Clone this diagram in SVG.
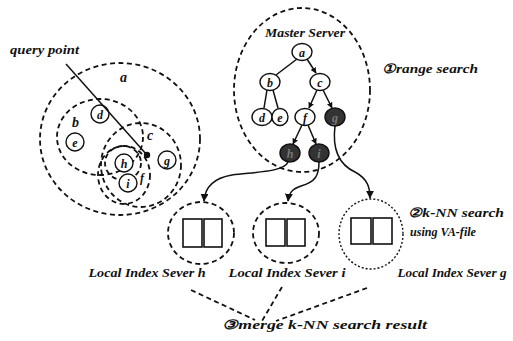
<svg xmlns="http://www.w3.org/2000/svg" width="513" height="341" viewBox="0 0 513 341">
<defs>
<style>
.t{font-family:"Liberation Serif","DejaVu Serif",serif;font-style:italic;font-weight:bold;fill:#111}
.dash{fill:none;stroke:#111;stroke-width:1.8;stroke-dasharray:5 3.5}
.dot{fill:none;stroke:#111;stroke-width:1.4;stroke-dasharray:2 2}
.nd{fill:#fff;stroke:#111;stroke-width:1.4}
.dk{fill:#333;stroke:#111;stroke-width:1.4}
.ln{fill:none;stroke:#111;stroke-width:1.5}
.rc{fill:#fff;stroke:#111;stroke-width:1.6}
</style>
<marker id="ah" viewBox="0 0 10 10" refX="9" refY="5" markerWidth="6" markerHeight="6" orient="auto" markerUnits="userSpaceOnUse">
<path d="M0,0 L10,5 L0,10 z" fill="#111"/>
</marker>
<marker id="ah2" viewBox="0 0 10 10" refX="9" refY="5" markerWidth="8" markerHeight="8" orient="auto" markerUnits="userSpaceOnUse">
<path d="M0,0 L10,5 L0,10 z" fill="#111"/>
</marker>
</defs>

<g id="space">
<ellipse class="dash" cx="120" cy="139" rx="80" ry="76"/>
<ellipse class="dash" cx="100" cy="137" rx="43" ry="38"/>
<ellipse class="dash" cx="141" cy="165" rx="40" ry="42"/>
<ellipse class="dash" cx="124" cy="175" rx="26" ry="29"/>
<ellipse class="dash" cx="123" cy="163" rx="18" ry="17"/>
<text class="t" x="120" y="82" font-size="14">a</text>
<text class="t" x="72" y="127" font-size="14">b</text>
<text class="t" x="147" y="140" font-size="14">c</text>
<text class="t" x="140" y="182" font-size="12">f</text>
<circle class="nd" cx="100" cy="114" r="9"/><text class="t" x="100" y="118.5" font-size="12" text-anchor="middle">d</text>
<circle class="nd" cx="75" cy="142" r="9"/><text class="t" x="75" y="146.5" font-size="12" text-anchor="middle">e</text>
<circle class="nd" cx="124" cy="163" r="9"/><text class="t" x="124" y="167.5" font-size="12" text-anchor="middle">h</text>
<circle class="nd" cx="128" cy="183" r="9"/><text class="t" x="128" y="187.5" font-size="12" text-anchor="middle">i</text>
<circle class="nd" cx="167" cy="160" r="9"/><text class="t" x="167" y="164.5" font-size="12" text-anchor="middle">g</text>
<line class="ln" x1="66" y1="64" x2="147" y2="155"/>
<circle cx="147" cy="155" r="3.2" fill="#111"/>
<text class="t" x="10" y="54" font-size="12" textLength="69" lengthAdjust="spacingAndGlyphs">query point</text>
</g>

<g id="master">
<ellipse class="dash" cx="302" cy="90" rx="68" ry="82"/>
<text class="t" x="305" y="37" font-size="12" text-anchor="middle" textLength="80" lengthAdjust="spacingAndGlyphs">Master Server</text>
</g>

<g id="tree-edges">
<line class="ln" x1="297" y1="59" x2="276" y2="75"/>
<line class="ln" x1="307" y1="59" x2="316" y2="73" marker-end="url(#ah)"/>
<line class="ln" x1="267" y1="90" x2="264" y2="108"/>
<line class="ln" x1="273" y1="90" x2="278" y2="108"/>
<line class="ln" x1="317" y1="90" x2="309" y2="108" marker-end="url(#ah)"/>
<line class="ln" x1="323" y1="90" x2="332" y2="108" marker-end="url(#ah)"/>
<line class="ln" x1="302" y1="125" x2="293" y2="144" marker-end="url(#ah)"/>
<line class="ln" x1="308" y1="125" x2="316" y2="144" marker-end="url(#ah)"/>
</g>

<g id="tree-nodes">
<g id="t-a"><ellipse class="nd" cx="302" cy="52" rx="10" ry="8.5"/><text class="t" x="302" y="56.5" font-size="12" text-anchor="middle">a</text></g>
<g id="t-b"><ellipse class="nd" cx="270" cy="82" rx="10" ry="8.5"/><text class="t" x="270" y="86.5" font-size="12" text-anchor="middle">b</text></g>
<g id="t-c"><ellipse class="nd" cx="320" cy="82" rx="10" ry="8.5"/><text class="t" x="320" y="86.5" font-size="12" text-anchor="middle">c</text></g>
<g id="t-d"><ellipse class="nd" cx="262" cy="117" rx="10" ry="8.5"/><text class="t" x="262" y="121.5" font-size="12" text-anchor="middle">d</text></g>
<g id="t-e"><ellipse class="nd" cx="280" cy="117" rx="8" ry="8.5"/><text class="t" x="280" y="121.5" font-size="12" text-anchor="middle">e</text></g>
<g id="t-f"><ellipse class="nd" cx="305" cy="117" rx="10" ry="8.5"/><text class="t" x="305" y="121.5" font-size="12" text-anchor="middle">f</text></g>
<g id="t-g"><ellipse class="dk" cx="335" cy="117" rx="10" ry="9"/><text class="t" x="335" y="121.5" font-size="12" text-anchor="middle" style="fill:#777">g</text></g>
<g id="t-h"><ellipse class="dk" cx="290" cy="153" rx="10" ry="9"/><text class="t" x="290" y="157.5" font-size="12" text-anchor="middle" style="fill:#777">h</text></g>
<g id="t-i"><ellipse class="dk" cx="319" cy="153" rx="10" ry="9"/><text class="t" x="319" y="157.5" font-size="12" text-anchor="middle" style="fill:#777">i</text></g>
</g>

<g id="connectors">
<path class="ln" d="M288,162 C284,172 255,172 232,175 C214,178 205,187 204,201" marker-end="url(#ah2)"/>
<path class="ln" d="M319,162 C319,176 315,182 301,186 C292,189 289,193 288,201" marker-end="url(#ah2)"/>
<path class="ln" d="M335,126 C332,150 340,165 355,172 C368,179 370,188 370,198" marker-end="url(#ah2)"/>
<line class="dash" x1="191" y1="290" x2="255" y2="320"/>
<line class="dash" x1="282" y1="287" x2="262" y2="321"/>
<line class="dash" x1="367" y1="288" x2="276" y2="321"/>
</g>

<g id="server-h">
<ellipse class="dash" cx="201" cy="233" rx="33" ry="31"/>
<rect class="rc" x="183" y="219" width="19" height="28"/>
<rect class="rc" x="204" y="219" width="18" height="28"/>
<text class="t" x="147" y="277" font-size="12.5" text-anchor="middle" textLength="117" lengthAdjust="spacingAndGlyphs">Local Index Sever h</text>
</g>
<g id="server-i">
<ellipse class="dash" cx="286" cy="233" rx="33" ry="30"/>
<rect class="rc" x="266" y="219" width="19" height="27"/>
<rect class="rc" x="287" y="219" width="18" height="27"/>
<text class="t" x="287" y="277" font-size="12.5" text-anchor="middle" textLength="117" lengthAdjust="spacingAndGlyphs">Local Index Sever i</text>
</g>
<g id="server-g">
<ellipse class="dot" cx="371" cy="234" rx="32" ry="35"/>
<rect class="rc" x="351" y="218" width="20" height="26"/>
<rect class="rc" x="373" y="218" width="19" height="26"/>
<text class="t" x="452" y="277" font-size="12.5" text-anchor="middle" textLength="109" lengthAdjust="spacingAndGlyphs">Local  Index Sever g</text>
</g>

<g id="labels">
<text class="t" x="382" y="73" font-size="13" textLength="96" lengthAdjust="spacingAndGlyphs">①range search</text>
<text class="t" x="408" y="217" font-size="13" textLength="96" lengthAdjust="spacingAndGlyphs">②k-NN search</text>
<text class="t" x="410" y="236" font-size="13" textLength="66" lengthAdjust="spacingAndGlyphs">using VA-file</text>
<text class="t" x="222" y="329" font-size="13" textLength="205" lengthAdjust="spacingAndGlyphs">③merge k-NN search result</text>
</g>
</svg>
